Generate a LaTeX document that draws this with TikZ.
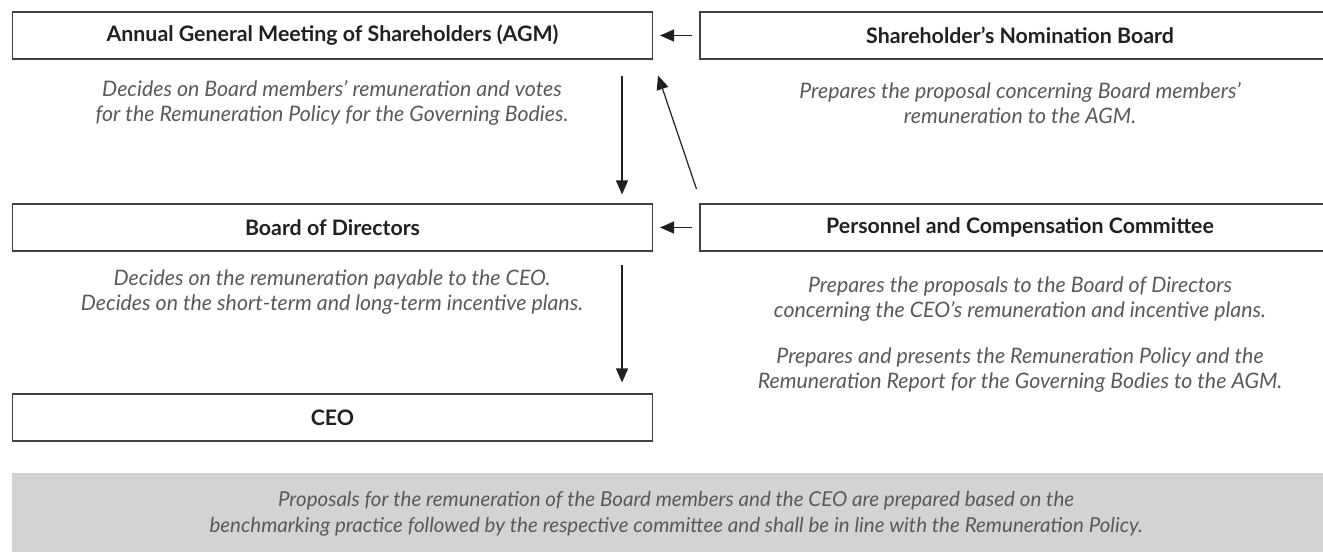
\documentclass[tikz,border=0pt]{standalone}
\usepackage{fontspec}
\setmainfont{Lato}
\usepackage{xcolor}
\usetikzlibrary{arrows.meta, positioning, calc}

\definecolor{boxline}{HTML}{414042}
\definecolor{titletext}{HTML}{231F20}
\definecolor{desctext}{HTML}{58595B}
\definecolor{notegray}{HTML}{D1D3D4}

\begin{document}
\begin{tikzpicture}[
    x=0.75pt, y=-0.75pt,
    box/.style={draw=boxline, line width=0.8pt, minimum width=480pt,
                minimum height=35.25pt, inner sep=0pt, text=titletext,
                font=\bfseries\fontsize{16}{18}\selectfont},
    desc/.style={align=center, text=desctext, inner sep=0pt,
                 font=\itshape\fontsize{16}{18.5}\selectfont},
    note/.style={fill=notegray, minimum width=996pt, minimum height=61.5pt,
                 align=center, text=desctext, inner sep=0pt,
                 font=\itshape\fontsize{15.4}{19.5}\selectfont},
    arr/.style={-{Triangle[length=10.5pt, width=9pt]}, line width=0.9pt, draw=titletext}
]
\useasboundingbox (0,0) rectangle (1323,552);

\node[box] (agm) at (332.5,35.5) {Annual General Meeting of Shareholders (AGM)};
\node[box] (snb) at (1020,35.5) {Shareholder’s Nomination Board};
\node[box] (bod) at (332.5,227.5) {Board of Directors};
\node[box] (pcc) at (1020,227.5) {Personnel and Compensation Committee};
\node[box] (ceo) at (332.5,417.5) {CEO};

\node[desc] (agmtxt) at (332,103) {Decides on Board members’ remuneration and votes\\
  for the Remuneration Policy for the Governing Bodies.};
\node[desc] (snbtxt) at (1020,103) {Prepares the proposal concerning Board members’\\
  remuneration to the AGM.};
\node[desc] (bodtxt) at (332,292) {Decides on the remuneration payable to the CEO.\\
  Decides on the short-term and long-term incentive plans.};
\node[desc] (pcctxt) at (1020,334.5) {Prepares the proposals to the Board of Directors\\
  concerning the CEO’s remuneration and incentive plans.\\[16pt]
  Prepares and presents the Remuneration Policy and the\\
  Remuneration Report for the Governing Bodies to the AGM.};

\node[note] (policy) at (676,514) {Proposals for the remuneration of the Board members and the CEO are prepared based on the\\
  benchmarking practice followed by the respective committee and shall be in line with the Remuneration Policy.};

% free ends of the connectors
\coordinate (agmout) at ($(agm.south east)+(-31,16)$);
\coordinate (bodin) at ($(bod.north east)+(-31,-9)$);
\coordinate (bodout) at ($(bod.south east)+(-31,13)$);
\coordinate (ceoin) at ($(ceo.north east)+(-31,-11)$);
\coordinate (pccout) at ($(pcc.north west)+(-3,-14.5)$);
\coordinate (agmin) at ($(agm.south east)+(5,16)$);

\draw[arr] ($(snb.west)+(-7,0)$) -- ($(agm.east)+(7,0)$);
\draw[arr] ($(pcc.west)+(-7,0)$) -- ($(bod.east)+(7,0)$);
\draw[arr] (agmout) -- (bodin);
\draw[arr] (bodout) -- (ceoin);
\draw[arr] (pccout) -- (agmin);
\end{tikzpicture}
\end{document}
